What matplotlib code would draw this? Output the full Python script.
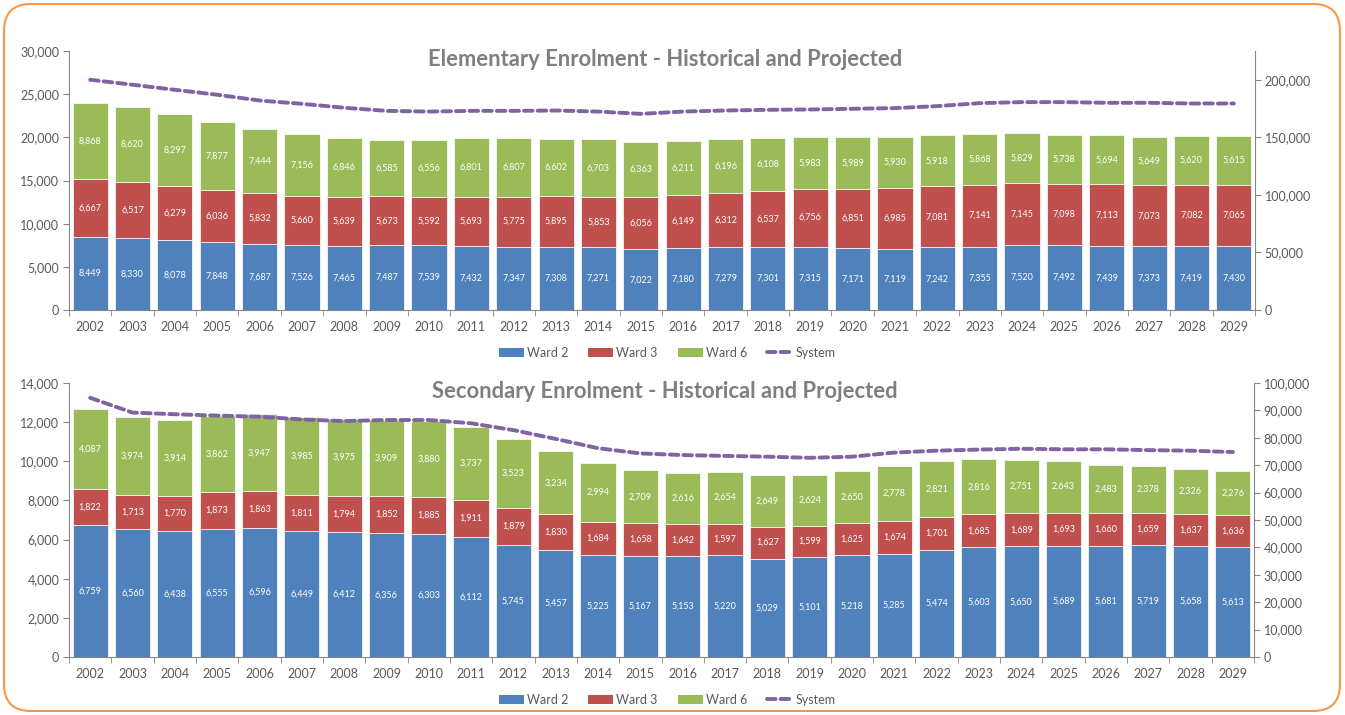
import matplotlib
matplotlib.use("Agg")
import matplotlib.pyplot as plt
from matplotlib.patches import FancyBboxPatch, Patch
from matplotlib.lines import Line2D
from matplotlib.ticker import FuncFormatter, FixedLocator

plt.rcParams["font.family"] = ["Lato", "DejaVu Sans"]

years = [str(y) for y in range(2002, 2030)]

# Elementary
elem_ward2 = [8449, 8330, 8078, 7848, 7687, 7526, 7465, 7487, 7539, 7432, 7347, 7308, 7271, 7022,
              7180, 7279, 7301, 7315, 7171, 7119, 7242, 7355, 7520, 7492, 7439, 7373, 7419, 7430]
elem_ward3 = [6667, 6517, 6279, 6036, 5832, 5660, 5639, 5673, 5592, 5693, 5775, 5895, 5853, 6056,
              6149, 6312, 6537, 6756, 6851, 6985, 7081, 7141, 7145, 7098, 7113, 7073, 7082, 7065]
elem_ward6 = [8868, 8620, 8297, 7877, 7444, 7156, 6846, 6585, 6556, 6801, 6807, 6602, 6703, 6363,
              6211, 6196, 6108, 5983, 5989, 5930, 5918, 5868, 5829, 5738, 5694, 5649, 5620, 5615]
elem_system = [200000, 195700, 191300, 187000, 182000, 179100, 175700, 173000, 172400, 173000,
               173000, 173300, 172400, 170400, 172400, 173300, 173900, 174200, 174800, 175400,
               177100, 179700, 180600, 180600, 180000, 180000, 179400, 179400]

# Secondary
sec_ward2 = [6759, 6560, 6438, 6555, 6596, 6449, 6412, 6356, 6303, 6112, 5745, 5457, 5225, 5167,
             5153, 5220, 5029, 5101, 5218, 5285, 5474, 5603, 5650, 5689, 5681, 5719, 5658, 5613]
sec_ward3 = [1822, 1713, 1770, 1873, 1863, 1811, 1794, 1852, 1885, 1911, 1879, 1830, 1684, 1658,
             1642, 1597, 1627, 1599, 1625, 1674, 1701, 1685, 1689, 1693, 1660, 1659, 1637, 1636]
sec_ward6 = [4087, 3974, 3914, 3862, 3947, 3985, 3975, 3909, 3880, 3737, 3523, 3234, 2994, 2709,
             2616, 2654, 2649, 2624, 2650, 2778, 2821, 2816, 2751, 2643, 2483, 2378, 2326, 2276]
sec_system = [94600, 89200, 88600, 88100, 87700, 86700, 86100, 86500, 86500, 85300, 82800, 79600,
              76200, 74300, 73700, 73400, 73100, 72700, 73100, 74600, 75300, 75700, 76000, 75800,
              75800, 75500, 75300, 74800]

C_W2 = "#4F81BD"
C_W3 = "#C0504D"
C_W6 = "#9BBB59"
C_SYS = "#8064A2"
GRAY_TXT = "#595959"
GRAY_AX = "#868686"

W, H = 1345, 715
fig = plt.figure(figsize=(W / 100, H / 100), dpi=100)
fig.patch.set_facecolor("white")

border = FancyBboxPatch((4 / W, 4 / H), 1 - 9 / W, 1 - 8 / H,
                        boxstyle="round,pad=0,rounding_size=0.02",
                        transform=fig.transFigure, fill=False,
                        edgecolor="#F79646", linewidth=1.5, mutation_aspect=W / H)
fig.patches.append(border)

comma = FuncFormatter(lambda v, p: f"{int(v):,}")


def draw(rect, w2, w3, w6, system, lmax, lstep, rmax, rticks, title, title_y, legend_y):
    l, t, r, b = rect
    ax = fig.add_axes([l / W, 1 - b / H, (r - l) / W, (b - t) / H])
    x = list(range(len(years)))
    bw = 0.83
    bot3 = [a for a in w2]
    bot6 = [a + c for a, c in zip(w2, w3)]
    ax.bar(x, w2, bw, color=C_W2, edgecolor="white", linewidth=0.5, zorder=2)
    ax.bar(x, w3, bw, bottom=bot3, color=C_W3, edgecolor="white", linewidth=0.5, zorder=2)
    ax.bar(x, w6, bw, bottom=bot6, color=C_W6, edgecolor="white", linewidth=0.5, zorder=2)
    for i in x:
        for val, base in ((w2[i], 0), (w3[i], bot3[i]), (w6[i], bot6[i])):
            ax.text(i, base + val / 2, f"{val:,}", ha="center", va="center",
                    color="white", fontsize=6.5, zorder=3)
    ax.set_xlim(-0.5, len(years) - 0.5)
    ax.set_ylim(0, lmax)
    ax.set_yticks(range(0, lmax + 1, lstep))
    ax.yaxis.set_major_formatter(comma)
    ax.set_xticks(x)
    ax.set_xticklabels(years)
    ax.xaxis.set_minor_locator(FixedLocator([i - 0.5 for i in range(len(years) + 1)]))
    ax.tick_params(axis="x", which="major", length=0, pad=8, labelsize=9, labelcolor=GRAY_TXT)
    ax.tick_params(axis="x", which="minor", length=4, color=GRAY_AX)
    ax.tick_params(axis="y", length=4, color=GRAY_AX, labelsize=9, labelcolor=GRAY_TXT, pad=3)
    for s in ("top", "right"):
        ax.spines[s].set_visible(False)
    for s in ("left", "bottom"):
        ax.spines[s].set_color(GRAY_AX)

    ax2 = ax.twinx()
    ax2.plot(x, system, color=C_SYS, linewidth=2.8, linestyle=(0, (2.2, 1.3)),
             dash_capstyle="round", zorder=4)
    ax2.set_ylim(0, rmax)
    ax2.set_yticks(rticks)
    ax2.yaxis.set_major_formatter(comma)
    ax2.tick_params(axis="y", length=4, color=GRAY_AX, labelsize=9, labelcolor=GRAY_TXT, pad=3)
    for s in ("top", "left", "bottom"):
        ax2.spines[s].set_visible(False)
    ax2.spines["right"].set_color(GRAY_AX)

    fig.text(665 / W, 1 - title_y / H, title, ha="center", va="center",
             fontsize=15.8, fontweight="bold", color="#7F7F7F")

    handles = [Patch(facecolor=C_W2), Patch(facecolor=C_W3), Patch(facecolor=C_W6),
               Line2D([0], [0], color=C_SYS, linewidth=2.8, linestyle=(0, (2.2, 1.3)),
                      dash_capstyle="round")]
    ax.legend(handles, ["Ward 2", "Ward 3", "Ward 6", "System"], loc="center",
              bbox_to_anchor=(667 / W, 1 - legend_y / H), bbox_transform=fig.transFigure,
              ncol=4, frameon=False, fontsize=9, labelcolor=GRAY_TXT,
              handlelength=2.0, handleheight=0.8, handletextpad=0.25, columnspacing=1.6)


draw((69, 51, 1255, 310), elem_ward2, elem_ward3, elem_ward6, elem_system,
     30000, 5000, 225000, list(range(0, 200001, 50000)),
     "Elementary Enrolment - Historical and Projected", 60, 353)
draw((69, 383, 1254, 657), sec_ward2, sec_ward3, sec_ward6, sec_system,
     14000, 2000, 100000, list(range(0, 100001, 10000)),
     "Secondary Enrolment - Historical and Projected", 392, 700)

fig.savefig("out.png", dpi=100, facecolor="white")
